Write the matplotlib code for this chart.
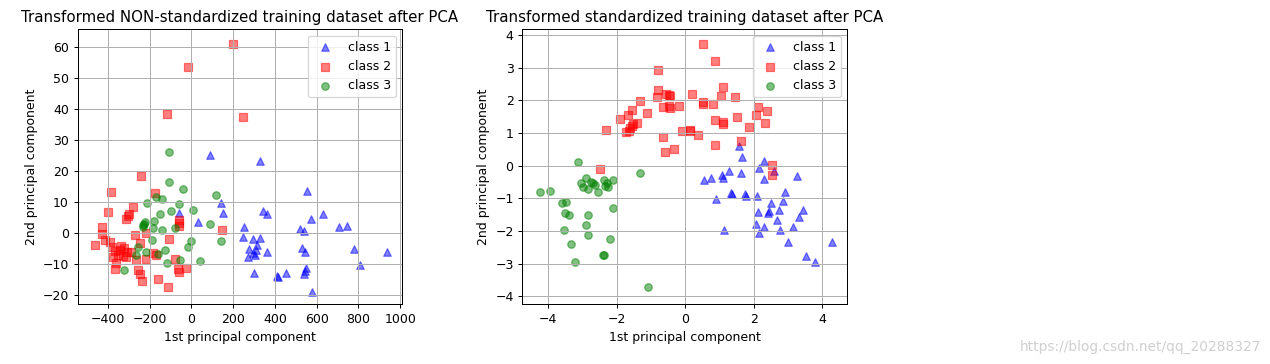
import numpy as np
import matplotlib
matplotlib.use('Agg')
import matplotlib.pyplot as plt

# ---- non-standardized PCA (left) ----
c1_raw_x = [88, 328, 555, 141, 149, -61, 29, 341, 360, 573, 632, 250, 520, 541, 709, 744,
            245, 296, 328, 312, 277, 309, 363, 296, 304, 272, 528, 546, 779, 939, 808,
            299, 408, 413, 453, 549, 546, 541, 579]
c1_raw_y = [25.1, 23.3, 13.6, 9.5, 6.5, 6.3, 3.6, 7.2, 6.0, 4.6, 6.1, 1.8, 1.3, 0.7, 2.0, 2.3,
            -1.2, -2.1, -1.5, -3.9, -5.1, -5.5, -6.2, -6.4, -7.1, -7.9, -5.0, -6.3, -5.3, -6.2, -10.3,
            -13.0, -13.9, -14.3, -13.0, -11.4, -12.3, -13.2, -19.0]

c2_raw_x = [197, -19, -115, 245, -240, -387, -176, -398, -280, -298, -306, -314, -429, -427,
            -416, -464, -392, -380, -272, -219, -248, -368, -344, -325, -309, -352, -328, -376,
            -312, -288, -340, -360, -368, -264, -256, -248, -235, -216, -184, -171, -160, -112,
            -109, -80, -64, -59, -62, -62, -62, -24, 147]
c2_raw_y = [60.9, 53.6, 38.3, 37.4, 18.4, 13.1, 12.8, 6.8, 8.2, 6.0, 5.6, 4.5, 1.8, -0.2,
            -2.3, -3.9, -3.0, -4.6, -0.7, 0.1, -3.3, -5.8, -5.5, -5.0, -6.3, -7.1, -7.4, -7.6,
            -7.9, -6.1, -4.2, -9.6, -11.6, -8.7, -12.1, -13.2, -15.6, -8.4, -6.6, -7.1, -14.8, -17.5,
            -1.9, -8.4, -11.6, -12.5, 4.3, 2.1, 3.2, -11.4, 0.9]

c3_raw_x = [-109, -109, -43, 118, -213, -171, -139, -61, 8, -96, -150, 88, -226, -221, -181,
            -230, -182, -139, -80, 141, 0, -16, -187, -258, -219, -126, -162, -267, -117, -56,
            40, -325, -230]
c3_raw_y = [26.2, 16.5, 14.1, 12.2, 9.7, 11.5, 10.9, 9.4, 7.4, 7.0, 6.2, 2.9, 2.9, 3.6, 3.8,
            2.0, 1.5, 0.9, 1.7, -2.7, -2.5, -4.4, -2.3, -4.4, -6.1, -5.5, -6.8, -7.1, -9.6, -8.7,
            -9.1, -12.0, 2.5]

# ---- standardized PCA (right) ----
c1_std_x = [1.55, 1.65, 2.28, 2.16, 2.59, 2.28, 1.26, 1.63, 1.06, 1.11, 0.75, 0.53, 3.26,
            1.33, 1.37, 1.74, 1.77, 0.90, 2.10, 2.91, 2.84, 2.50, 2.13, 2.42, 2.45, 2.74, 3.43,
            3.33, 2.67, 2.06, 2.28, 2.16, 2.76, 3.15, 1.14, 3.00, 4.29, 3.51, 3.78]
c1_std_y = [0.59, 0.28, 0.13, -0.08, -0.15, -0.41, -0.15, -0.21, -0.28, -0.38, -0.38, -0.45, -0.33,
            -0.84, -0.87, -0.87, -0.94, -1.03, -0.94, -0.82, -1.07, -1.13, -1.43, -1.45, -1.40, -1.35, -1.35,
            -1.58, -1.66, -1.78, -1.88, -2.07, -1.96, -1.88, -1.96, -2.32, -2.32, -2.76, -2.96]

c2_std_x = [0.50, 0.86, -0.79, 1.11, -0.79, -0.84, -0.56, -0.48, -0.44, 0.20, 1.04, 1.44, -1.32,
            0.50, 0.50, 0.82, -0.66, -0.45, -0.20, -0.47, -1.55, -1.69, -1.91, -1.11, -1.40, -1.57,
            -1.62, -1.52, -1.73, -1.64, -2.32, -0.11, 0.12, 0.12, 0.38, -0.66, -0.34, -0.59, 0.86,
            0.86, 1.09, 1.09, 1.52, 1.87, 1.63, 2.11, 2.39, 2.06, 2.32, 2.53, 2.53, -2.49]
c2_std_y = [3.72, 3.19, 2.93, 2.42, 2.32, 2.09, 2.20, 2.15, 2.12, 2.20, 2.13, 2.09, 1.98,
            1.96, 1.90, 1.89, 1.79, 1.76, 1.81, 1.82, 1.71, 1.55, 1.42, 1.62, 1.32, 1.22,
            1.16, 1.27, 1.02, 1.07, 1.09, 1.06, 1.10, 1.05, 0.93, 0.87, 0.52, 0.43, 0.64,
            1.40, 1.35, 1.28, 1.50, 1.17, 0.74, 1.78, 1.66, 1.56, 1.29, 0.02, -0.28, -0.10]

c3_std_x = [-3.15, -1.34, -4.24, -3.95, -2.90, -3.04, -3.00, -2.77, -2.71, -2.63, -2.84, -2.56,
            -2.38, -2.29, -2.26, -2.12, -2.36, -3.60, -3.48, -3.52, -3.41, -2.85, -2.10, -2.90,
            -3.55, -2.85, -2.21, -3.33, -2.39, -2.42, -3.23, -1.08]
c3_std_y = [0.10, -0.21, -0.81, -0.78, -0.38, -0.54, -0.66, -0.49, -0.54, -0.59, -0.71, -0.79,
            -0.43, -0.54, -0.64, -0.43, -0.62, -1.13, -1.10, -1.45, -1.50, -1.50, -1.28, -1.81,
            -1.96, -2.13, -2.23, -2.39, -2.74, -2.74, -2.96, -3.72]

labels = ['class 1', 'class 2', 'class 3']
colors = ['blue', 'red', 'green']
markers = ['^', 's', 'o']

# reference looks rendered at ~90 dpi
fig = plt.figure(figsize=(1270 / 90, 364 / 90), dpi=90)
ax1 = fig.add_axes([0.0612, 0.1648, 0.2554, 0.7547])
ax2 = fig.add_axes([0.4113, 0.1648, 0.2557, 0.7547])

raw = [(c1_raw_x, c1_raw_y), (c2_raw_x, c2_raw_y), (c3_raw_x, c3_raw_y)]
std = [(c1_std_x, c1_std_y), (c2_std_x, c2_std_y), (c3_std_x, c3_std_y)]

for ax, data in [(ax1, raw), (ax2, std)]:
    for (xs, ys), lab, col, mk in zip(data, labels, colors, markers):
        ax.scatter(xs, ys, color=col, marker=mk, alpha=0.5, label=lab, s=36)
    ax.set_xlabel('1st principal component')
    ax.set_ylabel('2nd principal component')
    ax.legend(loc='upper right', scatterpoints=1)
    ax.grid(True)

ax1.set_title('Transformed NON-standardized training dataset after PCA')
ax1.set_xlim(-545, 1009)
ax1.set_ylim(-22.9, 65.6)
ax1.set_xticks(np.arange(-400, 1001, 200))
ax1.set_yticks(np.arange(-20, 61, 10))

ax2.set_title('Transformed standardized training dataset after PCA')
ax2.set_xlim(-4.76, 4.72)
ax2.set_ylim(-4.23, 4.17)
ax2.set_xticks(np.arange(-4, 5, 2))
ax2.set_yticks(np.arange(-4, 5, 1))

# csdn watermark, bottom right
fig.text(0.993, 0.028, 'https://blog.csdn.net/qq_20288327', ha='right', va='bottom',
         color='#d0d0d0', fontsize=11)

fig.savefig('out.png', dpi=90)
